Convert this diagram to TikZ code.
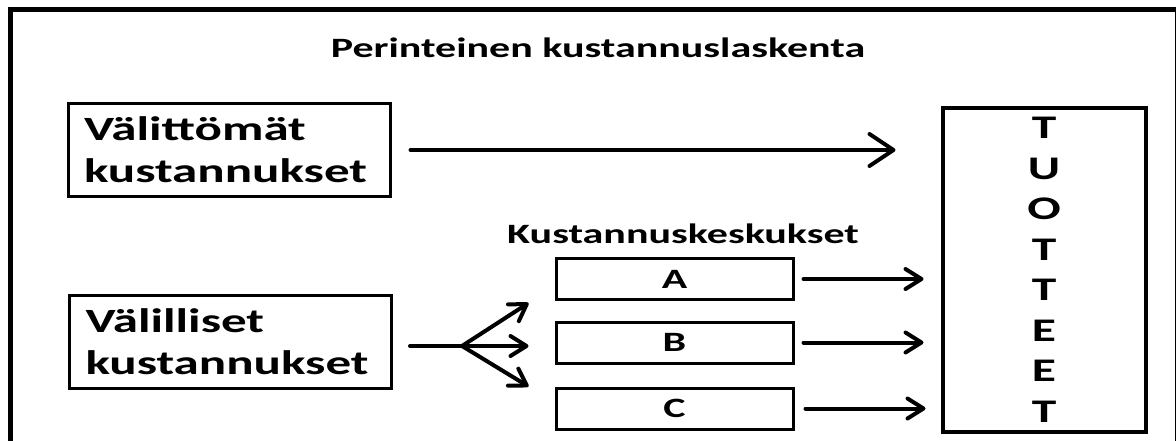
\documentclass[tikz,border=0pt]{standalone}
\usepackage{fontspec}
\usetikzlibrary{arrows.meta}
\newfontfamily\diagfont[FakeStretch=1.5]{Carlito}
\tikzset{
  box/.style={draw, line width=3pt, inner sep=0pt, font=\diagfont\bfseries},
  costbox/.style={box, minimum width=322pt, minimum height=93pt,
    text width=290pt, align=left, font=\diagfont\bfseries\fontsize{34}{42}\selectfont},
  centrebox/.style={box, minimum width=237pt, minimum height=41pt,
    font=\diagfont\bfseries\fontsize{28}{30}\selectfont},
  label/.style={font=\diagfont\bfseries\fontsize{28}{30}\selectfont, inner sep=0pt},
  flow/.style={line width=4pt, line cap=round,
    -{Straight Barb[length=16pt,width=20pt,round]}},
  bigflow/.style={flow, -{Straight Barb[length=24pt,width=32pt,round]}},
}
\begin{document}
\begin{tikzpicture}[x=1pt,y=-1pt]
\clip (0,0) rectangle (1176,441);
\fill[white] (0,0) rectangle (1176,441);
% outer frame
\draw[line width=5pt] (10,9.5) rectangle (1177.5,470);

% title and group label
\node[label, anchor=base] (title) at (598,58) {Perinteinen kustannuslaskenta};
\node[label, anchor=base] (centres) at (683,243) {Kustannuskeskukset};

% cost boxes
\node[costbox] (direct) at (229,150) {Välittömät\\kustannukset};
\node[costbox] (indirect) at (230.5,341.5) {Välilliset\\kustannukset};

% cost centres
\node[centrebox] (A) at (674.5,279) {A};
\node[centrebox] (B) at (674.5,342.5) {B};
\node[centrebox] (C) at (674.5,408.5) {C};

% products
\node[draw, line width=4pt, minimum width=203pt, minimum height=323pt,
  inner sep=0pt, align=center,
  font=\diagfont\bfseries\fontsize{33}{40.5}\selectfont] (prod) at (1044,270)
  {T\\U\\O\\T\\T\\E\\E\\T};

% direct costs straight to products
\draw[bigflow] ([xshift=19pt]direct.east) -- ([xshift=-45pt]prod.west |- direct.east);

% indirect costs split to the cost centres
\coordinate (split) at (462,346);
\draw[line width=4pt, line cap=round] ([xshift=17pt]indirect.east |- split) -- (split);
\draw[flow] (split) -- ([xshift=-26pt,yshift=-2pt]A.south west);
\draw[flow] (split) -- ([xshift=-26pt]B.west |- split);
\draw[flow] (split) -- ([xshift=-26pt]C.north west);

% cost centres to products
\draw[flow] ([xshift=9pt]A.east) -- ([xshift=-17pt]prod.west |- A.east);
\draw[flow] ([xshift=9pt]B.east) -- ([xshift=-17pt]prod.west |- B.east);
\draw[flow] ([xshift=11pt]C.east) -- ([xshift=-15pt]prod.west |- C.east);
\end{tikzpicture}
\end{document}
